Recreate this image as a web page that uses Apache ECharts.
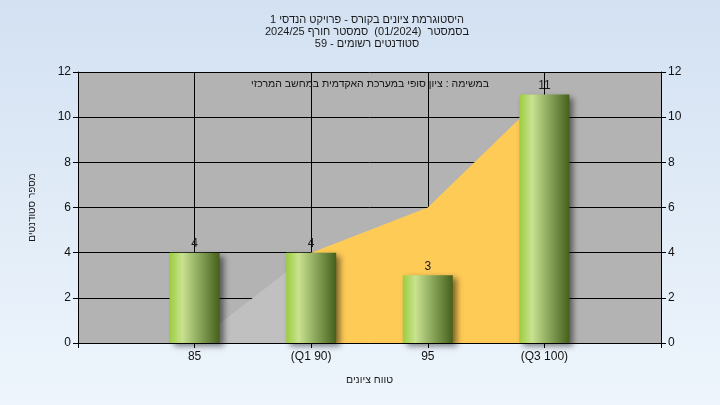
<!DOCTYPE html>
<html>
<head>
<meta charset="utf-8">
<script src="https://cdn.jsdelivr.net/npm/echarts@6/dist/echarts.min.js"></script>
<style>
html,body{margin:0;padding:0;}
#c{width:720px;height:405px;}
</style>
</head>
<body>
<div id="c"></div>
<script>
// ---- data ----
var titleLines = ['היסטוגרמת ציונים בקורס - פרויקט הנדסי 1', 'בסמסטר  (01/2024)  סמסטר חורף 2024/25', 'סטודנטים רשומים - 59'];
var noteText = 'במשימה : ציון סופי במערכת האקדמית במחשב המרכזי';
var xAxisName = 'טווח ציונים';
var yAxisName = 'מספר סטודנטים';
var grades = [85, 90, 95, 100];
var gradeLabels = ['85', '(Q1 90)', '95', '(Q3 100)'];
var counts = [4, 4, 3, 11];
var greyAreaX = [85, 90];
var greyAreaY = [0, 4];
var iqrAreaX = [90, 95, 100];
var iqrAreaY = [4, 6, 11];
var xMin = 80, xMax = 105, xStep = 5;
var yMin = 0, yMax = 12, yStep = 2;

function pairs(xs, ys) { return xs.map(function (x, i) { return [x, ys[i]]; }); }

var FONT = '"Liberation Sans", Arial, "DejaVu Sans", sans-serif';
var chart = echarts.init(document.getElementById('c'));
var axisLine = { show: true, lineStyle: { color: '#000', width: 1 } };
var option = {
  animation: false,
  backgroundColor: new echarts.graphic.LinearGradient(0, 0, 0, 1, [
    { offset: 0, color: '#d3e1f2' },
    { offset: 1, color: '#eef5fc' }
  ]),
  textStyle: { fontFamily: FONT },
  title: {
    text: titleLines.join('\n'),
    left: 362, top: 9, textAlign: 'center',
    textStyle: { fontSize: 11, fontWeight: 'normal', color: '#1a1a1a', lineHeight: 12, fontFamily: FONT }
  },
  graphic: [{
    type: 'text', x: 370, y: 84, z: 10,
    style: { text: noteText, fill: '#141414', font: '10.5px ' + FONT, align: 'center', verticalAlign: 'middle' }
  }],
  grid: { left: 78, right: 59, top: 72, bottom: 62, show: true, backgroundColor: '#b3b3b3', borderWidth: 0 },
  xAxis: {
    type: 'value', min: xMin, max: xMax, interval: xStep,
    name: xAxisName, nameLocation: 'middle', nameGap: 32,
    nameTextStyle: { fontSize: 10.5, color: '#1a1a1a', fontFamily: FONT },
    axisLine: axisLine,
    axisTick: { show: true, length: 5, lineStyle: { color: '#000' } },
    axisLabel: {
      fontSize: 12, color: '#111', margin: 8, fontFamily: FONT,
      formatter: function (v) { var i = grades.indexOf(v); return i >= 0 ? gradeLabels[i] : ''; }
    },
    splitLine: { show: true, lineStyle: { color: '#000', width: 1 } }
  },
  yAxis: [{
    type: 'value', min: yMin, max: yMax, interval: yStep,
    name: yAxisName, nameLocation: 'middle', nameGap: 41,
    nameTextStyle: { fontSize: 10, color: '#1a1a1a', fontFamily: FONT },
    axisLine: axisLine,
    axisTick: { show: true, length: 5, lineStyle: { color: '#000' } },
    axisLabel: { fontSize: 12, color: '#111', margin: 7, fontFamily: FONT },
    splitLine: { show: true, lineStyle: { color: '#000', width: 1 } }
  }, {
    type: 'value', min: yMin, max: yMax, interval: yStep, position: 'right',
    axisLine: axisLine,
    axisTick: { show: true, length: 5, lineStyle: { color: '#000' } },
    axisLabel: { fontSize: 12, color: '#111', margin: 7, fontFamily: FONT },
    splitLine: { show: false }
  }],
  series: [{
    type: 'line', data: pairs(greyAreaX, greyAreaY), showSymbol: false, symbol: 'none',
    lineStyle: { width: 0, opacity: 0 }, areaStyle: { color: '#c0c0c0', opacity: 1 }, z: 1
  }, {
    type: 'line', data: pairs(iqrAreaX, iqrAreaY), showSymbol: false, symbol: 'none',
    lineStyle: { width: 0, opacity: 0 }, areaStyle: { color: '#fecb57', opacity: 1 }, z: 1
  }, {
    type: 'bar', data: pairs(grades, counts), barWidth: 50, z: 3,
    itemStyle: {
      color: new echarts.graphic.LinearGradient(0, 0, 1, 0, [
        { offset: 0, color: '#9ccd3e' },
        { offset: 0.25, color: '#c8e290' },
        { offset: 0.55, color: '#92ae62' },
        { offset: 1, color: '#46601c' }
      ]),
      shadowColor: 'rgba(0,0,0,0.5)', shadowBlur: 6, shadowOffsetX: 4, shadowOffsetY: 3
    },
    label: { show: true, position: 'top', distance: 3, fontSize: 12, color: '#1a1a1a', fontFamily: FONT }
  }]
};
chart.setOption(option);
</script>
</body>
</html>
